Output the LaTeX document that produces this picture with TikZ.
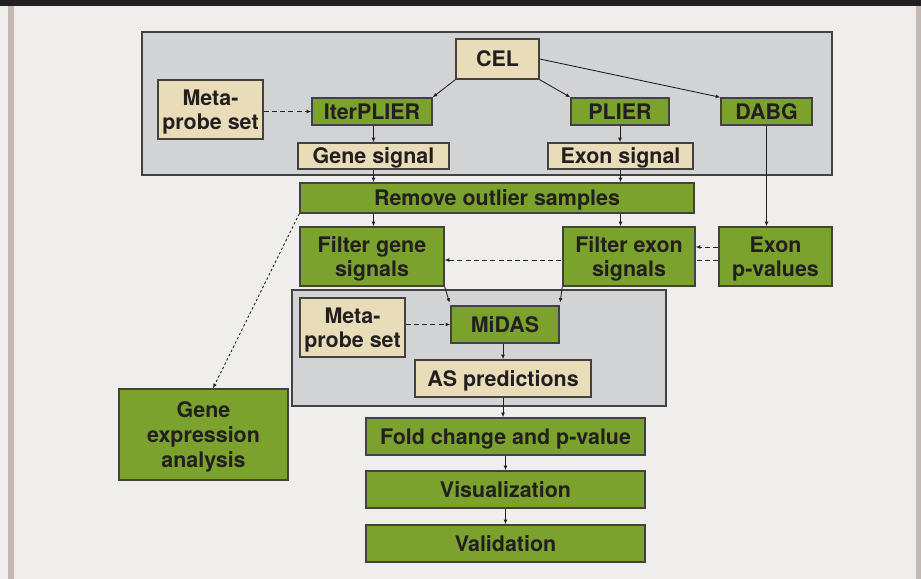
\documentclass[tikz,border=0pt]{standalone}
\usepackage{fontspec}
\setmainfont{TeX Gyre Heros}
\usetikzlibrary{arrows.meta}

\definecolor{boxgreen}{HTML}{7BA22D}
\definecolor{boxbeige}{HTML}{E9DCB9}
\definecolor{panelgray}{HTML}{D2D3D5}
\definecolor{pagebg}{HTML}{EFEEEC}
\definecolor{darkink}{HTML}{231F20}
\definecolor{sidebar}{HTML}{C4B8B2}

\pgfdeclarelayer{back}
\pgfdeclarelayer{mid}
\pgfsetlayers{back,mid,main}

\tikzset{
    box/.style={draw=darkink!85, line width=0.8pt, inner sep=0pt, align=center,
        text depth=0pt, text=darkink, font=\fontsize{12.2}{14}\selectfont\bfseries},
    greenbox/.style={box, fill=boxgreen},
    beigebox/.style={box, fill=boxbeige},
    flow/.style={draw=darkink, line width=0.5pt, -{Latex[length=2.6pt,width=2.2pt]}},
    hint/.style={flow, dash pattern=on 2.8pt off 1.9pt},
    faint/.style={flow, dash pattern=on 1.4pt off 1.3pt},
}

\begin{document}
\begin{tikzpicture}
    \useasboundingbox (0, 0) rectangle (18.42, 11.58);
    \begin{pgfonlayer}{back}
        \fill[pagebg] (0, 0) rectangle (18.42, 11.58);
        \fill[darkink] (0, 11.46) rectangle (18.42, 11.58);
        \fill[sidebar] (0.16, 0) rectangle (0.28, 11.46);
        \fill[sidebar] (18.32, 0) rectangle (18.42, 11.46);
        % summarisation and splicing panels
        \draw[darkink!85, line width=0.7pt, fill=panelgray] (2.84, 8.08) rectangle (16.64, 10.94);
        \draw[darkink!85, line width=0.7pt, fill=panelgray] (5.84, 3.46) rectangle (13.32, 5.78);
    \end{pgfonlayer}

    % upper panel
    \node[beigebox, minimum width=1.66cm, minimum height=0.80cm] (cel) at (9.95, 10.40) {CEL};
    \node[beigebox, minimum width=2.10cm, minimum height=1.18cm] (metaA) at (4.21, 9.39) {Meta-\\probe set};
    \node[greenbox, minimum width=2.40cm, minimum height=0.54cm] (iterplier) at (7.44, 9.35) {IterPLIER};
    \node[greenbox, minimum width=1.96cm, minimum height=0.54cm] (plier) at (12.40, 9.35) {PLIER};
    \node[greenbox, minimum width=1.82cm, minimum height=0.54cm] (dabg) at (15.33, 9.35) {DABG};
    \node[beigebox, minimum width=3.02cm, minimum height=0.52cm] (genesig) at (7.47, 8.46) {Gene signal};
    \node[beigebox, minimum width=2.90cm, minimum height=0.52cm] (exonsig) at (12.41, 8.46) {Exon signal};

    % filtering
    \node[greenbox, minimum width=7.88cm, minimum height=0.60cm] (remove) at (9.94, 7.62) {Remove outlier samples};
    \node[greenbox, minimum width=2.88cm, minimum height=1.18cm] (fgene) at (7.44, 6.45) {Filter gene\\signals};
    \node[greenbox, minimum width=2.64cm, minimum height=1.18cm] (fexon) at (12.58, 6.45) {Filter exon\\signals};
    \node[greenbox, minimum width=2.26cm, minimum height=1.18cm] (pval) at (15.51, 6.45) {Exon\\p-values};

    % lower panel
    \node[beigebox, minimum width=2.10cm, minimum height=1.18cm] (metaB) at (7.05, 5.03) {Meta-\\probe set};
    \node[greenbox, minimum width=2.16cm, minimum height=0.74cm] (midas) at (10.10, 5.09) {MiDAS};
    \node[beigebox, minimum width=3.52cm, minimum height=0.74cm] (aspred) at (10.06, 4.01) {AS predictions};

    \node[greenbox, minimum width=3.38cm, minimum height=1.82cm] (geneexpr) at (4.07, 2.89) {Gene\\expression\\analysis};
    \node[greenbox, minimum width=5.58cm, minimum height=0.74cm] (fold) at (10.11, 2.85) {Fold change and p-value};
    \node[greenbox, minimum width=5.58cm, minimum height=0.74cm] (vis) at (10.11, 1.79) {Visualization};
    \node[greenbox, minimum width=5.58cm, minimum height=0.74cm] (valid) at (10.11, 0.71) {Validation};

    % connectors
    \draw[flow] (cel.south west) -- (iterplier.north east);
    \draw[flow] (cel.south east) -- (plier.north west);
    \draw[flow] (cel.east) -- (dabg.north west);
    \draw[hint] (metaA.east |- iterplier) -- (iterplier.west);
    \draw[flow] (iterplier.south -| genesig) -- (genesig.north);
    \draw[flow] (genesig.south) -- (genesig.south |- remove.north);
    \draw[flow] (plier.south) -- (plier.south |- exonsig.north);
    \draw[flow] (exonsig.south) -- (exonsig.south |- remove.north);
    \draw[flow] (dabg.south) -- (dabg.south |- pval.north);
    \draw[flow] (remove.south -| genesig) -- (genesig |- fgene.north);
    \draw[flow] (remove.south -| exonsig) -- (exonsig |- fexon.north);
    \draw[hint] ([yshift=0.19cm]pval.west) -- ([yshift=0.19cm]fexon.east);
    \begin{pgfonlayer}{mid}
        \draw[hint] ([yshift=-0.07cm]pval.west) -- ([yshift=-0.07cm]fgene.east);
    \end{pgfonlayer}
    \draw[flow, shorten >=1.5pt] (fgene.south east) -- (midas.north west);
    \draw[flow, shorten >=1.5pt] (fexon.south west) -- (midas.north east);
    \draw[hint] (metaB.east |- midas) -- (midas.west);
    \draw[flow] (midas.south -| aspred) -- (aspred.north);
    \draw[flow] (aspred.south) -- (aspred.south |- fold.north);
    \draw[flow] (fold) -- (vis);
    \draw[flow] (vis) -- (valid);
    \draw[faint] (remove.south west) -- ([xshift=0.19cm]geneexpr.north);
\end{tikzpicture}
\end{document}
